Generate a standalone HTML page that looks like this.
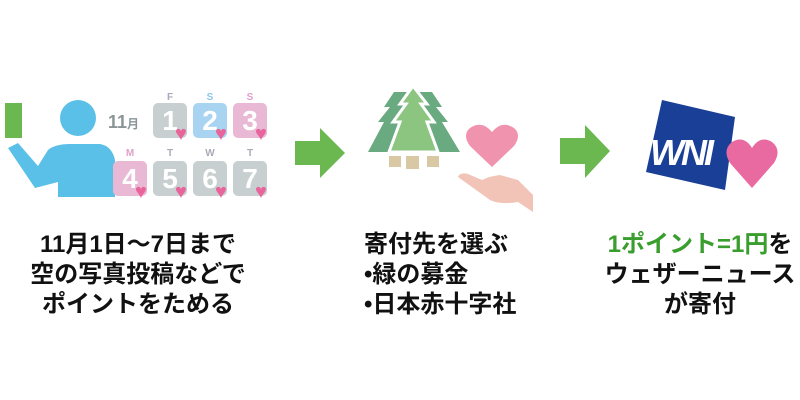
<!DOCTYPE html>
<html><head><meta charset="utf-8"><style>
body{margin:0;width:800px;height:400px;background:#fff;overflow:hidden;position:relative;font-family:"Liberation Sans","Noto Sans CJK JP",sans-serif}
.t{position:absolute;font-weight:bold;font-size:24px;line-height:30px;color:#111;white-space:nowrap}
.b{position:absolute;width:34px;height:35px;border-radius:5px;color:#fff;font-weight:bold;font-size:28px;text-align:center;line-height:36px}
.l{position:absolute;font-size:10px;font-weight:bold;width:34px;text-align:center}
.h{position:absolute;color:#e8649a;font-size:20px;line-height:20px}
</style></head><body>
<svg width="800" height="400" style="position:absolute;left:0;top:0">
<rect x="5" y="103" width="17" height="35" fill="#6ab84f"/>
<circle cx="78" cy="118" r="18" fill="#5bc0e8"/>
<path d="M8,148 L18,143 L38,166 L48,150 Q55,144 70,144 L100,144 Q112,146 115,160 L115,197 L58,197 L58,182 L35,188 Z" fill="#5bc0e8"/>
<polygon points="295,141 320,141 320,128 345,153 320,178 320,165 295,165" fill="#6ab84f"/>
<polygon points="560,138 585,138 585,125 610,151 585,178 585,164 560,164" fill="#6ab84f"/>
<polygon points="394,92 384,107 390,107 378,122 384,122 368,152 410,152 410,92" fill="#6aaa80"/>
<polygon points="432,92 442,107 436,107 448,122 442,122 460,152 416,152 416,92" fill="#6aaa80"/>
<polygon points="413,86 400,104 406,104 393,122 400,122 389,152 438,152 427,122 434,122 421,104 427,104" fill="#8cc580" stroke="#fff" stroke-width="3"/>
<rect x="389" y="156" width="12" height="11" fill="#d8c8a4"/><rect x="406" y="156" width="13" height="13" fill="#d8c8a4"/><rect x="427" y="156" width="12" height="11" fill="#d8c8a4"/>
<path d="M492,167 L470,146 Q462,135 470,128 Q482,120 492,132 Q502,120 514,128 Q522,135 514,146 Z" fill="#f093ae"/>
<path d="M458,177 Q460,172 468,174 L482,180 Q490,176 500,175 L518,180 L533,195 L533,212 L518,202 Q500,205 490,200 Z" fill="#f2c4b8"/>
<polygon points="662,100 735,117 725,190 646,172" fill="#1a3f97"/>
<text x="650" y="165" font-family="Liberation Sans" font-weight="bold" font-style="italic" font-size="36" fill="#fff" letter-spacing="-3">WNI</text>
<path d="M752,188 L730,163 Q722,150 732,142 Q744,135 752,148 Q760,135 772,142 Q782,150 774,163 Z" fill="#e96aa0"/>
</svg>
<div style="position:absolute;left:108px;top:112px;font-weight:bold;color:#8a9598;font-size:18px">11<span style="font-size:12px">月</span></div>
<div class="l" style="left:153px;top:92px;color:#aab">F</div>
<div class="l" style="left:193px;top:92px;color:#8cc6ea">S</div>
<div class="l" style="left:233px;top:92px;color:#e0a0c8">S</div>
<div class="l" style="left:113px;top:148px;color:#e0a0c8">M</div>
<div class="l" style="left:153px;top:148px;color:#aab">T</div>
<div class="l" style="left:193px;top:148px;color:#aab">W</div>
<div class="l" style="left:233px;top:148px;color:#aab">T</div>
<div class="b" style="left:153px;top:103px;background:#c8cfd0">1</div>
<div class="b" style="left:193px;top:103px;background:#a8d4f2">2</div>
<div class="b" style="left:233px;top:103px;background:#e8b8d4">3</div>
<div class="b" style="left:113px;top:161px;background:#e8b8d4">4</div>
<div class="b" style="left:153px;top:161px;background:#c8cfd0">5</div>
<div class="b" style="left:193px;top:161px;background:#c8cfd0">6</div>
<div class="b" style="left:233px;top:161px;background:#c8cfd0">7</div>
<div class="h" style="left:175px;top:124px">♥</div><div class="h" style="left:215px;top:124px">♥</div><div class="h" style="left:255px;top:124px">♥</div>
<div class="h" style="left:135px;top:182px">♥</div><div class="h" style="left:175px;top:182px">♥</div><div class="h" style="left:215px;top:182px">♥</div><div class="h" style="left:255px;top:182px">♥</div>
<div class="t" style="left:0;width:276px;top:230px;text-align:center">11月1日〜7日まで<br>空の写真投稿などで<br>ポイントをためる</div>
<div class="t" style="left:364px;top:230px">寄付先を選ぶ<br>•緑の募金<br>•日本赤十字社</div>
<div class="t" style="left:590px;width:220px;top:230px;text-align:center"><span style="color:#3a9e2e">1ポイント=1円</span>を<br>ウェザーニュース<br>が寄付</div>
</body></html>
